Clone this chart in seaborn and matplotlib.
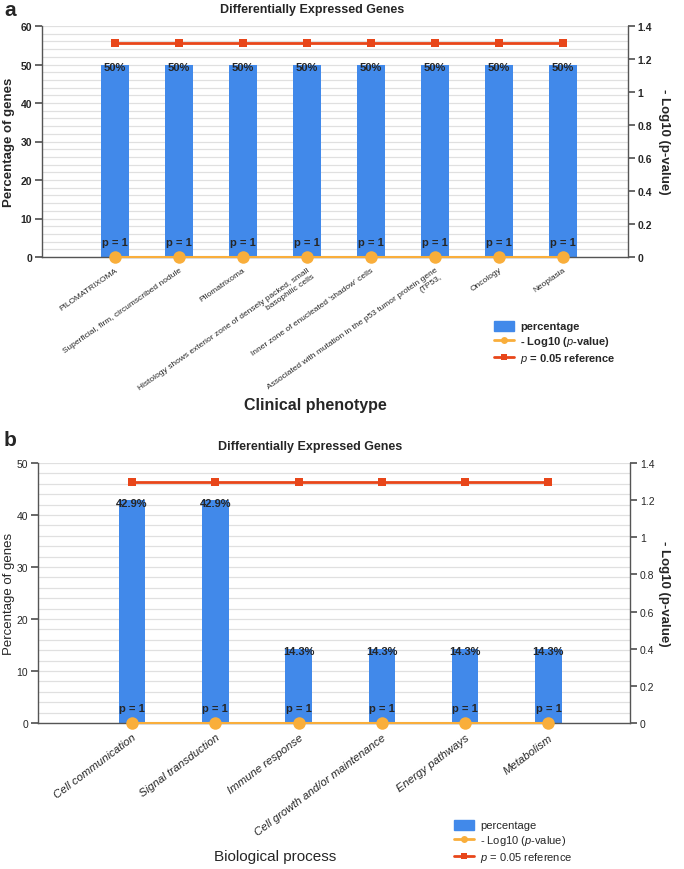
import numpy as np
import matplotlib
matplotlib.use("Agg")
import matplotlib.pyplot as plt
import seaborn as sns
from matplotlib import font_manager
from matplotlib.lines import Line2D
from matplotlib.patches import Patch
from matplotlib.ticker import MultipleLocator, FuncFormatter

# ── data ────────────────────────────────────────────────────────────────────
phenotypes = [
    "PILOMATRIXOMA",
    "Superficial, firm, circumscribed nodule",
    "Pilomatrixoma",
    "Histology shows exterior zone of densely packed, small\nbasophilic cells",
    "Inner zone of enucleated 'shadow' cells",
    "Associated with mutation in the p53 tumor protein gene\n(TP53,",
    "Oncology",
    "Neoplasia",
]
phenotype_pct = [50, 50, 50, 50, 50, 50, 50, 50]
phenotype_logp = [0, 0, 0, 0, 0, 0, 0, 0]
phenotype_pval = [1, 1, 1, 1, 1, 1, 1, 1]
phenotype_ref = [1.3, 1.3, 1.3, 1.3, 1.3, 1.3, 1.3, 1.3]

processes = [
    "Cell communication",
    "Signal transduction",
    "Immune response",
    "Cell growth and/or maintenance",
    "Energy pathways",
    "Metabolism",
]
process_pct = [42.9, 42.9, 14.3, 14.3, 14.3, 14.3]
process_logp = [0, 0, 0, 0, 0, 0]
process_pval = [1, 1, 1, 1, 1, 1]
process_ref = [1.3, 1.3, 1.3, 1.3, 1.3, 1.3]

BLUE = "#4189EA"
ORANGE = "#F9AE3B"
RED = "#E8461A"
AXC = "#555555"

sns.set_theme(style="white")
names = {f.name for f in font_manager.fontManager.ttflist}
NARROW = "Liberation Sans Narrow" if "Liberation Sans Narrow" in names else "Liberation Sans"
plt.rcParams["font.family"] = ["Liberation Sans", "DejaVu Sans"]
plt.rcParams["mathtext.fontset"] = "custom"
plt.rcParams["mathtext.it"] = "Liberation Sans:italic"

W, H = 684, 870
fig = plt.figure(figsize=(W / 100, H / 100), dpi=100)


def fx(px):
    return px / W


def fy(py):
    return 1 - py / H


def draw_panel(rect, cats, pct, logp, ref, pvals, ymax, xpad, bar_w,
               bold, tick_rot, tick_fs, tick_style):
    ax = fig.add_axes(rect)
    ax2 = ax.twinx()
    pos = np.arange(len(cats))
    weight = "bold" if bold else "normal"

    sns.barplot(x=pos, y=pct, native_scale=True, width=bar_w, color=BLUE,
                saturation=1, linewidth=0, ax=ax, zorder=2)
    sns.lineplot(x=pos, y=ref, ax=ax2, color=RED, marker="s", markersize=6,
                 markeredgewidth=0, lw=2, zorder=3)
    sns.lineplot(x=pos, y=logp, ax=ax2, color=ORANGE, marker="o", markersize=9,
                 markeredgewidth=0, lw=1.5, clip_on=False, zorder=3)

    ax.set_xlim(-xpad[0], len(cats) - 1 + xpad[1])
    ax.set_ylim(0, ymax)
    ax2.set_ylim(0, 1.4)
    ax.yaxis.set_major_locator(MultipleLocator(10))
    ax.yaxis.set_minor_locator(MultipleLocator(2))
    ax2.yaxis.set_major_locator(MultipleLocator(0.2))
    ax2.yaxis.set_major_formatter(FuncFormatter(lambda v, _: f"{v:g}"))
    ax.grid(axis="y", which="both", color="#e0e0e0", lw=0.9)
    ax.set_axisbelow(True)
    ax.set_xlabel("")
    ax.set_ylabel("")
    ax2.set_ylabel("")

    for s in ["top", "right"]:
        ax.spines[s].set_visible(False)
    for s in ["top", "left", "bottom"]:
        ax2.spines[s].set_visible(False)
    for s in [ax.spines["left"], ax.spines["bottom"], ax2.spines["right"]]:
        s.set_color(AXC)
        s.set_linewidth(1)

    ax.set_xticks(pos)
    ax.set_xticklabels(cats, rotation=tick_rot, ha="right", rotation_mode="anchor",
                       fontsize=tick_fs, style=tick_style, multialignment="right")
    ax.tick_params(axis="x", direction="inout", length=7, color=AXC, pad=3)
    ax.tick_params(axis="y", which="major", direction="out", length=5, color=AXC,
                   pad=2, labelsize=7.5)
    ax.tick_params(axis="y", which="minor", length=0)
    ax2.tick_params(axis="y", direction="out", length=5, color=AXC, pad=2,
                    labelsize=7.5)
    for lab in ax.get_yticklabels() + ax2.get_yticklabels():
        lab.set_fontfamily(NARROW)
        lab.set_fontweight(weight)

    for i, (v, p) in enumerate(zip(pct, pvals)):
        ax.annotate(f"{v:g}%", (i, v), xytext=(0, -2), textcoords="offset points",
                    ha="center", va="center", fontsize=8, fontweight="bold",
                    family=NARROW, zorder=5)
        ax.annotate(f"p = {p}", (i, 0), xytext=(0, 11), textcoords="offset points",
                    ha="center", va="center", fontsize=8, fontweight="bold",
                    family=NARROW, zorder=5)
    return ax, ax2


def legend(anchor, bold):
    handles = [
        Patch(color=BLUE, label="percentage"),
        Line2D([], [], color=ORANGE, lw=2, marker="o", markersize=5,
               markeredgewidth=0, label=r"- Log10 ($\mathit{p}$-value)"),
        Line2D([], [], color=RED, lw=2, marker="s", markersize=5,
               markeredgewidth=0, label=r"$\mathit{p}$ = 0.05 reference"),
    ]
    fig.legend(handles=handles, loc="upper left", bbox_to_anchor=anchor,
               frameon=False, handlelength=1.8, handleheight=1.0,
               labelspacing=0.25, borderpad=0, handletextpad=0.6,
               prop={"size": 8, "weight": "bold" if bold else "normal"})


# ── panel a ──────────────────────────────────────────────────────────────────
rect_a = [fx(42), fy(258), fx(628 - 42), (258 - 27) / H]
draw_panel(rect_a, phenotypes, phenotype_pct, phenotype_logp, phenotype_ref,
           phenotype_pval, 60, (1.14, 1.02), 0.44, True, 35, 6.0, "normal")
fig.text(fx(4), fy(10), "a", fontsize=15, fontweight="bold", va="center")
fig.text(fx(312), fy(10), "Differentially Expressed Genes", fontsize=9,
         fontweight="bold", ha="center", va="center")
fig.text(fx(9), fy(142), "Percentage of genes", rotation=90, fontsize=9.5,
         fontweight="bold", ha="center", va="center")
fig.text(fx(664), fy(142), "- Log10 (p-value)", rotation=270, fontsize=9.5,
         fontweight="bold", ha="center", va="center")
fig.text(fx(315), fy(406), "Clinical phenotype", fontsize=11.5,
         fontweight="bold", ha="center", va="center")
legend((fx(488), fy(316)), True)

# ── panel b ──────────────────────────────────────────────────────────────────
rect_b = [fx(38), fy(724), fx(630 - 38), (724 - 464) / H]
draw_panel(rect_b, processes, process_pct, process_logp, process_ref,
           process_pval, 50, (1.13, 0.98), 0.32, False, 37, 8.2, "italic")
fig.text(fx(4), fy(440), "b", fontsize=15, fontweight="bold", va="center")
fig.text(fx(310), fy(447), "Differentially Expressed Genes", fontsize=9,
         fontweight="bold", ha="center", va="center")
fig.text(fx(9), fy(594), "Percentage of genes", rotation=90, fontsize=9.5,
         ha="center", va="center")
fig.text(fx(664), fy(594), "- Log10 (p-value)", rotation=270, fontsize=9.5,
         fontweight="bold", ha="center", va="center")
fig.text(fx(275), fy(857), "Biological process", fontsize=11,
         ha="center", va="center")
legend((fx(448), fy(815)), False)

fig.savefig("out.png", dpi=100)
